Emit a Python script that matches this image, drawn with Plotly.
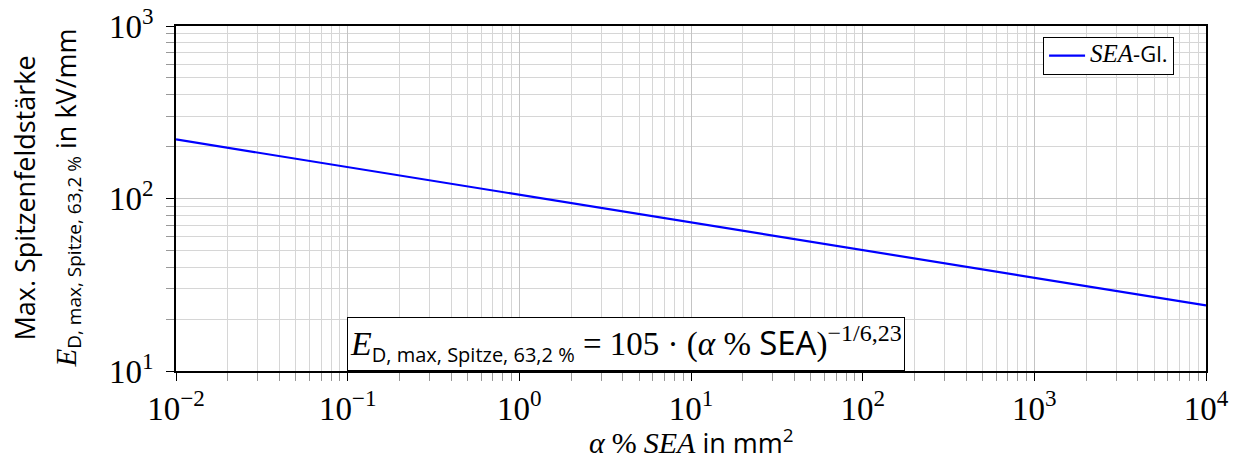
import plotly.graph_objects as go

# Data (straight line in log-log)
area_mm2 = [0.01, 1.0, 100.0, 10000.0]
field_kv_mm = [220.0, 105.0, 50.0, 24.0]

x_tick_vals = [1e-2, 1e-1, 1e0, 1e1, 1e2, 1e3, 1e4]
x_tick_text = ["10<sup>−2</sup>", "10<sup>−1</sup>", "10<sup>0</sup>", "10<sup>1</sup>",
               "10<sup>2</sup>", "10<sup>3</sup>", "10<sup>4</sup>"]
y_tick_vals = [1e1, 1e2, 1e3]
y_tick_text = ["10<sup>1</sup>", "10<sup>2</sup>", "10<sup>3</sup>"]

def minor_vals(decades):
    out = []
    for d in decades:
        for m in range(2, 10):
            out.append(m * d)
    return out

x_minor = minor_vals(x_tick_vals[:-1])
y_minor = minor_vals(y_tick_vals[:-1])

serif = "Liberation Serif, DejaVu Serif, serif"
sans = "Open Sans, Noto Sans, sans-serif"

def sf(t, italic=False, size=None):
    st = "font-family:Liberation Serif"
    if size:
        st += f";font-size:{size}px"
    s = f'<span style="{st}">{t}</span>'
    return f"<i>{s}</i>" if italic else s

def sz(t, size):
    return f'<span style="font-size:{size}px">{t}</span>'

fig = go.Figure()
fig.add_trace(go.Scatter(
    x=area_mm2, y=field_kv_mm, mode="lines",
    line=dict(color="#0000ff", width=2.2),
    name=sf("SEA", True, 25) + sz("-Gl.", 22),
))

grid_col = "#c4c4c4"
minor_col = "#d6d6d6"
fig.update_xaxes(
    type="log", range=[-2, 4], automargin=False,
    tickvals=x_tick_vals, ticktext=x_tick_text,
    tickfont=dict(family=serif, size=33, color="black"),
    ticks="outside", ticklen=8, tickcolor="black",
    showgrid=True, gridcolor=grid_col, gridwidth=1,
    minor=dict(tickvals=x_minor, showgrid=True, gridcolor=minor_col, gridwidth=1,
               ticks="outside", ticklen=8, tickcolor="#999999"),
    showline=True, linecolor="black", linewidth=1.5, mirror=True,
    zeroline=False,
)
fig.update_yaxes(
    type="log", range=[1, 3], automargin=False,
    tickvals=y_tick_vals, ticktext=y_tick_text,
    tickfont=dict(family=serif, size=33, color="black"),
    ticks="outside", ticklen=8, tickcolor="black",
    ticklabelstandoff=6,
    showgrid=True, gridcolor=grid_col, gridwidth=1,
    minor=dict(tickvals=y_minor, showgrid=True, gridcolor=minor_col, gridwidth=1,
               ticks="outside", ticklen=8, tickcolor="#999999"),
    showline=True, linecolor="black", linewidth=1.5, mirror=True,
    zeroline=False,
)

# x-axis title
fig.add_annotation(
    xref="paper", yref="paper", x=0.5, y=(371 - 441) / 345,
    xanchor="center", yanchor="middle", showarrow=False,
    text=sf("α", True, 30) + " " + sf("%", size=30) + " " + sf("SEA", True, 30) + " in mm<sup>2</sup>",
    font=dict(family=sans, size=27, color="black"),
)

# y-axis title as two rotated lines
fig.add_annotation(
    xref="paper", yref="paper", x=(24 - 176) / 1030, y=0.5,
    xanchor="center", yanchor="middle", textangle=-90, showarrow=False,
    text="Max. Spitzenfeldstärke",
    font=dict(family=sans, size=27, color="black"),
)
fig.add_annotation(
    xref="paper", yref="paper", x=(67 - 176) / 1030, y=0.5,
    xanchor="center", yanchor="middle", textangle=-90, showarrow=False,
    text=sf("E", True, 29) + "<sub>" + sz("D, max, Spitze, 63,2 %", 19) + "</sub> in kV/mm",
    font=dict(family=sans, size=27, color="black"),
)

fig.add_annotation(
    xref="paper", yref="paper", x=0.1665, y=0.0, xanchor="left", yanchor="bottom",
    text=sf("E", True, 34) + "<sub>" + sz("D, max, Spitze, 63,2 %", 20) + "</sub>" +
         sf(" = 105 · (") + sf("α", True) + sf(" % ") + "SEA" +
         sf(")") + "<sup>" + sf("−1/6,23", size=24) + "</sup>",
    showarrow=False, font=dict(family=sans, size=33, color="black"),
    bgcolor="white", bordercolor="black", borderwidth=1, borderpad=2,
)

fig.update_layout(
    width=1235, height=471,
    margin=dict(l=176, r=29, t=26, b=100),
    plot_bgcolor="white", paper_bgcolor="white",
    showlegend=True,
    legend=dict(x=0.969, y=0.968, xanchor="right", yanchor="top",
                bgcolor="white", bordercolor="black", borderwidth=1,
                itemwidth=36,
                font=dict(family=sans, size=17, color="black")),
)

fig.write_html("out.html")
